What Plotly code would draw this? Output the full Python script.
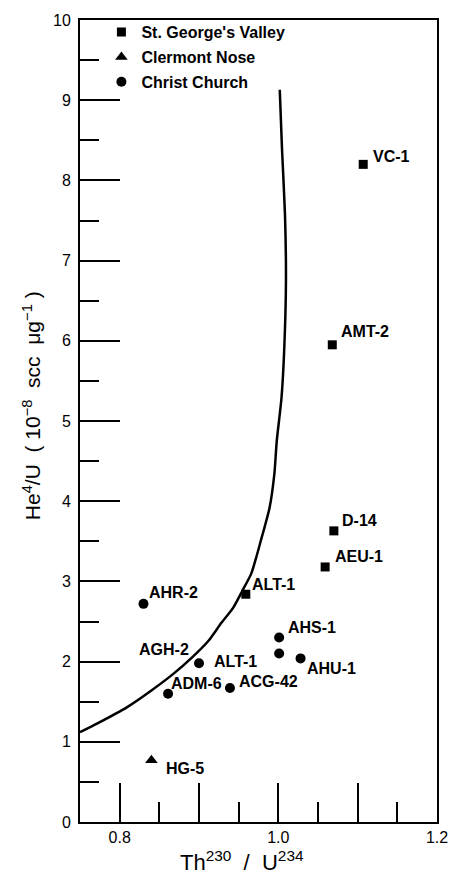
import plotly.graph_objects as go

# ---------------- data ----------------
sgv_x = [1.107, 1.068, 1.070, 1.059, 0.959]
sgv_y = [8.20, 5.95, 3.63, 3.18, 2.84]
sgv_labels = [["VC-1"], ["AMT-2"], ["D-14"], ["AEU-1"], ["ALT-1"]]

cn_x = [0.840]
cn_y = [0.77]
cn_labels = [["HG-5"]]

cc_x = [0.830, 1.001, 1.001, 1.028, 0.900, 0.861, 0.939]
cc_y = [2.72, 2.30, 2.10, 2.04, 1.98, 1.60, 1.67]
cc_labels = [["AHR-2"], ["AHS-1"], [], ["AHU-1"], ["AGH-2", "ALT-1"], ["ADM-6"], ["ACG-42"]]

curve_x = [0.750, 0.772, 0.809, 0.840, 0.868, 0.891, 0.912, 0.928, 0.943, 0.955,
           0.966, 0.978, 0.989, 0.995, 0.998, 1.004, 1.0075, 1.0096, 1.0084, 1.0046, 1.0018]
curve_y = [1.12, 1.23, 1.43, 1.64, 1.85, 2.05, 2.26, 2.48, 2.67, 2.89,
           3.10, 3.51, 3.92, 4.34, 4.75, 5.29, 5.91, 6.74, 7.57, 8.40, 9.13]

x_label_vals = [0.8, 1.0, 1.2]
x_label_text = ["0.8", "1.0", "1.2"]
x_long_unlabeled = [0.9, 1.1]
x_minor = [0.85, 0.95, 1.05, 1.15]
y_tickvals = list(range(0, 11))
y_ticktext = [str(v) for v in y_tickvals]
y_minor = [v + 0.5 for v in range(0, 10)]

series_names = ["St. George's Valley", "Clermont Nose", "Christ Church"]

# ---------------- styles ----------------
FONT = "Liberation Sans, Arial, sans-serif"
label_style = {
    ("sgv", "VC-1"): ("left", 8, 8),
    ("sgv", "AMT-2"): ("left", 7, 13),
    ("sgv", "D-14"): ("left", 6, 10),
    ("sgv", "AEU-1"): ("left", 8, 10),
    ("sgv", "ALT-1"): ("left", 4, 10),
    ("cn", "HG-5"): ("left", 13, -8),
    ("cc", "AHR-2"): ("left", 4, 11),
    ("cc", "AHS-1"): ("left", 7, 10),
    ("cc", "AHU-1"): ("left", 4, -10),
    ("cc", "AGH-2"): ("right", -8, 14),
    ("cc", "ALT-1"): ("left", 13, 2),
    ("cc", "ADM-6"): ("left", 1, 10),
    ("cc", "ACG-42"): ("left", 7, 7),
}

fig = go.Figure()

fig.add_trace(go.Scatter(x=curve_x, y=curve_y, mode="lines",
                         line=dict(color="black", width=2.5, shape="spline", smoothing=0.6),
                         showlegend=False, hoverinfo="skip"))

fig.add_trace(go.Scatter(x=sgv_x, y=sgv_y, mode="markers", name=series_names[0],
                         legendgroup="g1",
                         marker=dict(symbol="square", size=9, color="black")))
fig.add_trace(go.Scatter(x=cn_x, y=cn_y, mode="markers", name=series_names[1],
                         legendgroup="g2",
                         marker=dict(symbol="triangle-up", size=11, color="black")))
fig.add_trace(go.Scatter(x=cc_x, y=cc_y, mode="markers", name=series_names[2],
                         legendgroup="g3",
                         marker=dict(symbol="circle", size=10, color="black")))

# invisible helper trace on the overlay axis that carries the long unlabeled x ticks
fig.add_trace(go.Scatter(x=[x_long_unlabeled[0]], y=[0], xaxis="x2", mode="markers",
                         marker=dict(opacity=0), showlegend=False, hoverinfo="skip"))

annotations = []
for key, xs, ys, labs in [("sgv", sgv_x, sgv_y, sgv_labels),
                          ("cn", cn_x, cn_y, cn_labels),
                          ("cc", cc_x, cc_y, cc_labels)]:
    for xv, yv, names in zip(xs, ys, labs):
        for nm in names:
            anc, dx, dy = label_style[(key, nm)]
            annotations.append(dict(x=xv, y=yv, xref="x", yref="y", text=nm,
                                    showarrow=False, xanchor=anc, yanchor="middle",
                                    xshift=dx, yshift=dy,
                                    font=dict(family=FONT, size=16, color="black",
                                              weight="bold")))

annotations.append(dict(x=0.455, y=-0.049, xref="paper", yref="paper",
                        text="Th<sup>230</sup>\u00a0\u00a0/\u00a0\u00a0U<sup>234</sup>",
                        showarrow=False, xanchor="center", yanchor="middle",
                        font=dict(family=FONT, size=22, color="black")))
annotations.append(dict(x=-0.136, y=0.519, xref="paper", yref="paper",
                        text="He<sup>4</sup>/U\u00a0\u00a0(\u00a010<sup>\u22128</sup>\u00a0\u00a0scc\u00a0\u00a0\u03bcg<sup>\u22121</sup>\u00a0)",
                        textangle=-90, showarrow=False, xanchor="center", yanchor="middle",
                        font=dict(family=FONT, size=21, color="black")))

fig.update_layout(
    width=460, height=874,
    margin=dict(l=80, r=13, t=18, b=52),
    paper_bgcolor="white", plot_bgcolor="white",
    font=dict(family=FONT, color="black"),
    annotations=annotations,
    legend=dict(x=0.06, y=1.006, xanchor="left", yanchor="top",
                bgcolor="rgba(0,0,0,0)", tracegroupgap=1,
                font=dict(family=FONT, size=16, color="black", weight="bold"),
                itemwidth=30),
    xaxis=dict(range=[0.75, 1.2], showgrid=False, zeroline=False,
               showline=True, linecolor="black", linewidth=2, mirror=True,
               ticks="inside", ticklen=39, tickwidth=2, tickcolor="black",
               tickvals=x_label_vals, ticktext=x_label_text,
               tickfont=dict(family=FONT, size=16, color="black"),
               minor=dict(tickvals=x_minor, ticks="inside", ticklen=20, tickwidth=2,
                          tickcolor="black", showgrid=False)),
    xaxis2=dict(overlaying="x", matches="x", side="bottom", anchor="y",
                showgrid=False, zeroline=False, showline=False,
                ticks="inside", ticklen=39, tickwidth=2, tickcolor="black",
                tickvals=x_long_unlabeled, showticklabels=False),
    yaxis=dict(range=[0, 10], showgrid=False, zeroline=False,
               showline=True, linecolor="black", linewidth=2, mirror=True,
               ticks="inside", ticklen=40, tickwidth=2, tickcolor="black",
               tickvals=y_tickvals, ticktext=y_ticktext,
               tickfont=dict(family=FONT, size=16, color="black"),
               ticklabelstandoff=4,
               minor=dict(tickvals=y_minor, ticks="inside", ticklen=19, tickwidth=2,
                          tickcolor="black", showgrid=False)),
)

fig.write_html("out.html")
